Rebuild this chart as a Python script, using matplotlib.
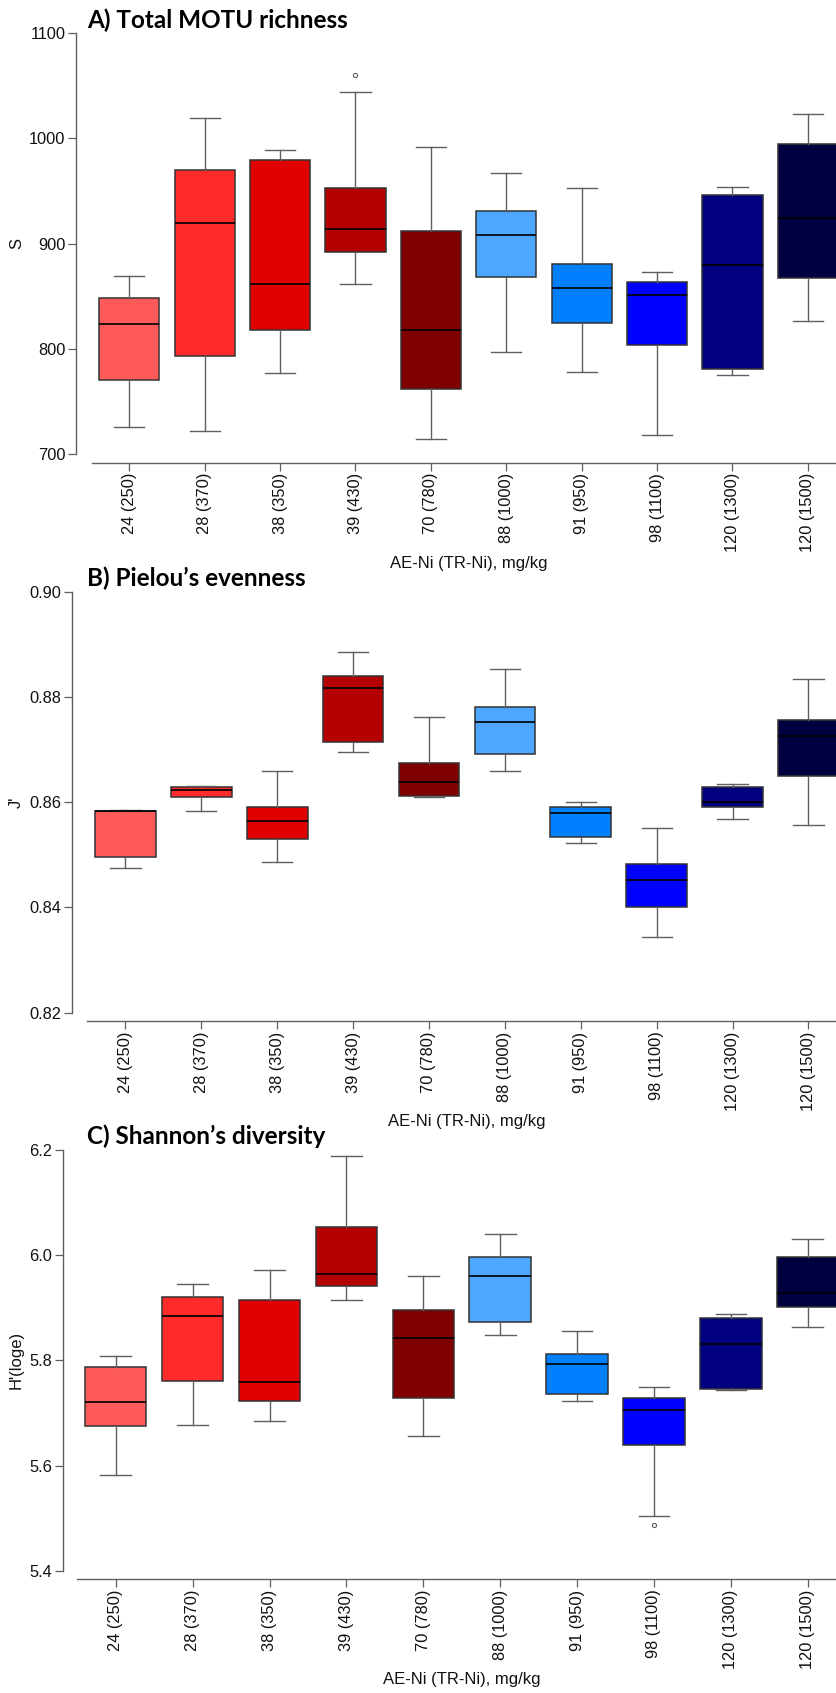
import matplotlib
matplotlib.use('Agg')
import matplotlib.pyplot as plt
import matplotlib.transforms as mtransforms

plt.rcParams['font.family'] = ['Liberation Sans', 'DejaVu Sans']

# ---- data ----
groups = ['24 (250)', '28 (370)', '38 (350)', '39 (430)', '70 (780)',
          '88 (1000)', '91 (950)', '98 (1100)', '120 (1300)', '120 (1500)']
box_colors = ['#FF5A5A', '#FF2A2A', '#E00000', '#B40000', '#800000',
              '#4DA6FF', '#0080FF', '#0000FF', '#000080', '#000040']

# richness S: whisker low, Q1, median, Q3, whisker high
S_wlo = [726, 722, 777, 862, 714, 797, 778, 718, 775, 826]
S_q1  = [770, 793, 818, 892, 762, 868, 825, 804, 781, 867]
S_med = [824, 920, 862, 914, 818, 908, 858, 851, 880, 924]
S_q3  = [848, 970, 980, 953, 912, 931, 881, 864, 946, 995]
S_whi = [869, 1019, 989, 1044, 992, 967, 953, 873, 954, 1023]
S_out = [[], [], [], [1060], [], [], [], [], [], []]

# Pielou's evenness J'
J_wlo = [0.8475, 0.8584, 0.8487, 0.8695, 0.8609, 0.8659, 0.8523, 0.8343, 0.8569, 0.8556]
J_q1  = [0.8496, 0.8609, 0.8530, 0.8715, 0.8611, 0.8692, 0.8534, 0.8401, 0.8591, 0.8650]
J_med = [0.8583, 0.8623, 0.8565, 0.8817, 0.8638, 0.8752, 0.8580, 0.8452, 0.8600, 0.8725]
J_q3  = [0.8584, 0.8628, 0.8590, 0.8840, 0.8675, 0.8781, 0.8590, 0.8482, 0.8629, 0.8757]
J_whi = [0.8586, 0.8631, 0.8659, 0.8886, 0.8761, 0.8854, 0.8600, 0.8551, 0.8635, 0.8835]
J_out = [[] for _ in groups]

# Shannon's diversity H'
H_wlo = [5.582, 5.678, 5.685, 5.915, 5.656, 5.849, 5.723, 5.504, 5.744, 5.864]
H_q1  = [5.676, 5.760, 5.723, 5.941, 5.729, 5.873, 5.736, 5.639, 5.746, 5.902]
H_med = [5.720, 5.884, 5.759, 5.964, 5.843, 5.961, 5.794, 5.706, 5.831, 5.929]
H_q3  = [5.787, 5.920, 5.914, 6.054, 5.896, 5.996, 5.813, 5.729, 5.880, 5.996]
H_whi = [5.809, 5.945, 5.971, 6.189, 5.960, 6.041, 5.856, 5.749, 5.889, 6.031]
H_out = [[], [], [], [], [], [], [], [5.487], [], []]

S_ticks = [700, 800, 900, 1000, 1100]
J_ticks = [0.82, 0.84, 0.86, 0.88, 0.90]
H_ticks = [5.4, 5.6, 5.8, 6.0, 6.2]

W, H = 837, 1693
fig = plt.figure(figsize=(W / 100, H / 100), dpi=100)

axis_grey = '#5f5f5f'


def make_stats(wlo, q1, med, q3, whi, out):
    return [dict(whislo=a, q1=b, med=c, q3=d, whishi=e, fliers=f)
            for a, b, c, d, e, f in zip(wlo, q1, med, q3, whi, out)]


def panel(stats, ticks, fmt, title, ylabel, yaxis_x, ytop_px, ybot_px,
          xaxis_px, tick1_px, step_px, title_base):
    # layout in pixels of the reference
    upp = (ticks[-1] - ticks[0]) / (ybot_px - ytop_px)
    ylo = ticks[0] - (xaxis_px - ybot_px) * upp
    xlo = 1 - (tick1_px - yaxis_x) / step_px
    xhi = 1 + (W - tick1_px) / step_px

    ax = fig.add_axes([yaxis_x / W, 1 - xaxis_px / H,
                       1 - yaxis_x / W, (xaxis_px - ytop_px) / H])
    pos = list(range(1, len(stats) + 1))
    bp = ax.bxp(stats, positions=pos, widths=0.8, capwidths=0.4,
                patch_artist=True, showfliers=True,
                boxprops=dict(edgecolor='#333333', linewidth=1.1),
                medianprops=dict(color='black', linewidth=1.2),
                whiskerprops=dict(color=axis_grey, linewidth=1.0),
                capprops=dict(color=axis_grey, linewidth=1.0),
                flierprops=dict(marker='o', markersize=3, markerfacecolor='none',
                                markeredgecolor=axis_grey, markeredgewidth=0.8))
    for patch, c in zip(bp['boxes'], box_colors):
        patch.set_facecolor(c)

    ax.set_xlim(xlo, xhi)
    ax.set_ylim(ylo, ticks[-1])
    for s in ['top', 'right']:
        ax.spines[s].set_visible(False)
    ax.spines['left'].set_bounds(ticks[0], ticks[-1])
    ax.spines['bottom'].set_bounds(0.5, xhi)
    for s in ['left', 'bottom']:
        ax.spines[s].set_color(axis_grey)
        ax.spines[s].set_linewidth(1.0)

    ax.set_yticks(ticks)
    ax.set_yticklabels([fmt.format(t) for t in ticks])
    ax.set_xticks(pos)
    ax.set_xticklabels(groups, rotation=90)
    ax.tick_params(axis='both', direction='out', length=5.5, width=0.9,
                   color=axis_grey, labelsize=11.8, labelcolor='#111111', pad=2)

    ax.set_ylabel(ylabel, fontsize=12, color='#111111')
    ymid = (ytop_px + ybot_px) / 2
    ax.yaxis.set_label_coords(24 / W, 1 - ymid / H, transform=fig.transFigure)
    ax.set_xlabel('AE-Ni (TR-Ni), mg/kg', fontsize=12, color='#111111')
    tr = mtransforms.blended_transform_factory(ax.transData, fig.transFigure)
    ax.xaxis.set_label_coords(5.5, 1 - (xaxis_px + 93) / H, transform=tr)

    fig.text(87 / W, 1 - title_base / H, title, ha='left', va='baseline',
             fontsize=17.5, fontweight='bold', family=['Lato', 'DejaVu Sans'])
    return ax


panel(make_stats(S_wlo, S_q1, S_med, S_q3, S_whi, S_out), S_ticks, '{:.0f}',
      'A) Total MOTU richness', 'S',
      76, 33.3, 454, 462.7, 129.3, 75.4, 28.5)
panel(make_stats(J_wlo, J_q1, J_med, J_q3, J_whi, J_out), J_ticks, '{:.2f}',
      'B) Pielou\u2019s evenness', "J'",
      71.7, 591.7, 1012.7, 1021.3, 125.4, 75.9, 586)
panel(make_stats(H_wlo, H_q1, H_med, H_q3, H_whi, H_out), H_ticks, '{:.1f}',
      'C) Shannon\u2019s diversity', "H'(loge)",
      62.7, 1150, 1570.7, 1579.3, 115.7, 76.9, 1143.5)

fig.savefig('out.png', dpi=100)
